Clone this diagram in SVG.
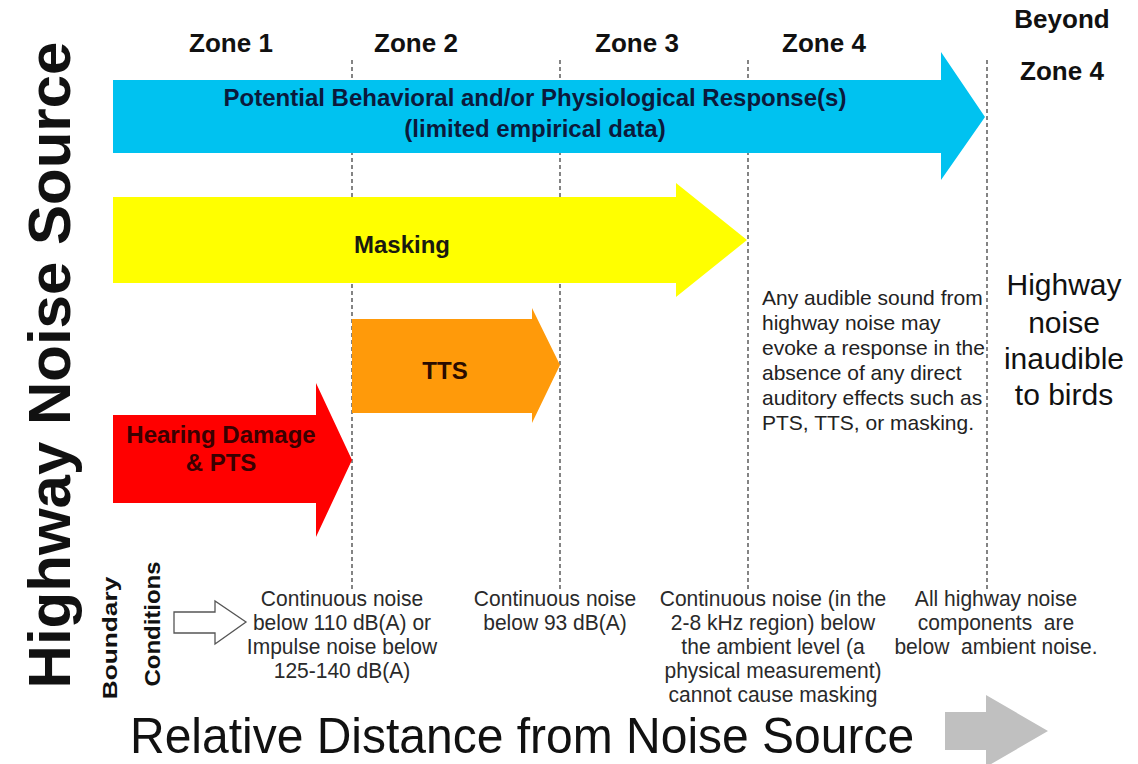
<svg xmlns="http://www.w3.org/2000/svg" width="1138" height="764" viewBox="0 0 1138 764">
  <style>
    .bold { font-family: "Liberation Sans", Arial, sans-serif; font-weight: bold; }
    .reg { font-family: "Liberation Sans", Arial, sans-serif; font-weight: normal; }
    .zone { font-size: 26px; fill: #111111; text-anchor: middle; }
    .label { font-size: 24px; text-anchor: middle; }
    .cond { font-size: 22px; fill: #2a2a2a; text-anchor: middle; }
    .note { font-size: 21px; fill: #222222; }
    .guide { stroke: #333333; stroke-width: 1.2; stroke-dasharray: 4 3; fill: none; }
  </style>

  <rect x="0" y="0" width="1138" height="764" fill="#ffffff"/>

  <!-- dashed zone boundaries (drawn behind the arrows) -->
  <g id="zone-boundaries">
    <line class="guide" x1="352" y1="60" x2="352" y2="590"/>
    <line class="guide" x1="560" y1="60" x2="560" y2="591"/>
    <line class="guide" x1="748" y1="60" x2="748" y2="590"/>
    <line class="guide" x1="987" y1="60" x2="987" y2="591"/>
  </g>

  <!-- zone headings -->
  <g id="zone-headings" class="bold">
    <text class="zone" x="231" y="52">Zone 1</text>
    <text class="zone" x="416" y="52">Zone 2</text>
    <text class="zone" x="637" y="52">Zone 3</text>
    <text class="zone" x="824" y="52">Zone 4</text>
    <text class="zone" x="1062" y="28">Beyond</text>
    <text class="zone" x="1062" y="80">Zone 4</text>
  </g>

  <!-- vertical axis title -->
  <g id="axis-source">
    <text class="bold" font-size="60" fill="#111111" text-anchor="middle" transform="translate(70,365) rotate(-90)">Highway Noise Source</text>
  </g>

  <!-- response arrows -->
  <g id="behavioral-response">
    <polygon points="113,80 941,80 941,52 985,117 941,180 941,153 113,153" fill="#00c2f0"/>
    <text class="bold label" x="535" y="106" fill="#0b1a3c">Potential Behavioral and/or Physiological Response(s)</text>
    <text class="bold label" x="535" y="137" fill="#0b1a3c">(limited empirical data)</text>
  </g>

  <g id="masking">
    <polygon points="113,197 676,197 676,183 747,240 676,297 676,283 113,283" fill="#ffff00"/>
    <text class="bold label" x="402" y="253" fill="#1a1a10">Masking</text>
  </g>

  <g id="tts">
    <polygon points="352,319 532,319 532,308 560,365 532,423 532,413 352,413" fill="#ff9a0a"/>
    <text class="bold label" x="445" y="379" fill="#2b0c00">TTS</text>
  </g>

  <g id="hearing-damage">
    <polygon points="113,415 316,415 316,383 352,460 316,537 316,503 113,503" fill="#ff0000"/>
    <text class="bold label" x="221" y="443" fill="#3a0000">Hearing Damage</text>
    <text class="bold label" x="221" y="471" fill="#3a0000">&amp; PTS</text>
  </g>

  <!-- zone 4 and beyond notes -->
  <g id="zone4-note" class="reg note">
    <text x="762" y="305">Any audible sound from</text>
    <text x="762" y="330">highway noise may</text>
    <text x="762" y="355">evoke a response in the</text>
    <text x="762" y="380">absence of any direct</text>
    <text x="762" y="405">auditory effects such as</text>
    <text x="762" y="430">PTS, TTS, or masking.</text>
  </g>

  <g id="beyond-note" class="reg" font-size="30" fill="#111111" text-anchor="middle">
    <text x="1064" y="295">Highway</text>
    <text x="1064" y="333">noise</text>
    <text x="1064" y="369">inaudible</text>
    <text x="1064" y="405">to birds</text>
  </g>

  <!-- boundary conditions -->
  <g id="boundary-label" class="bold" fill="#111111" text-anchor="middle">
    <text font-size="21" transform="translate(117,638) rotate(-90) scale(1.25,1)">Boundary</text>
    <text font-size="22" transform="translate(160,624) rotate(-90) scale(1.09,1)">Conditions</text>
  </g>

  <g id="boundary-pointer">
    <polygon points="174,612 215,612 215,601 246,622 215,644 215,633 174,633" fill="#ffffff" stroke="#555555" stroke-width="1.3"/>
  </g>

  <g id="boundary-zone1" class="reg cond" transform="translate(342,0) scale(0.955,1)">
    <text x="0" y="606">Continuous noise</text>
    <text x="0" y="630">below 110 dB(A) or</text>
    <text x="0" y="654">Impulse noise below</text>
    <text x="0" y="678">125-140 dB(A)</text>
  </g>

  <g id="boundary-zone2" class="reg cond" transform="translate(555,0) scale(0.955,1)">
    <text x="0" y="606">Continuous noise</text>
    <text x="0" y="630">below 93 dB(A)</text>
  </g>

  <g id="boundary-zone3" class="reg cond" transform="translate(773,0) scale(0.955,1)">
    <text x="0" y="606">Continuous noise (in the</text>
    <text x="0" y="630">2-8 kHz region) below</text>
    <text x="0" y="654">the ambient level (a</text>
    <text x="0" y="678">physical measurement)</text>
    <text x="0" y="702">cannot cause masking</text>
  </g>

  <g id="boundary-beyond" class="reg cond" transform="translate(996,0) scale(0.955,1)">
    <text x="0" y="606">All highway noise</text>
    <text x="0" y="630" xml:space="preserve">components  are</text>
    <text x="0" y="654" xml:space="preserve">below  ambient noise.</text>
  </g>

  <!-- horizontal axis title -->
  <g id="axis-distance">
    <text class="reg" font-size="50" fill="#111111" transform="translate(130,753) scale(0.96,1)">Relative Distance from Noise Source</text>
    <polygon points="945,712 986,712 986,695 1048,731 986,767 986,750 945,750" fill="#c0c0c0"/>
  </g>
</svg>
